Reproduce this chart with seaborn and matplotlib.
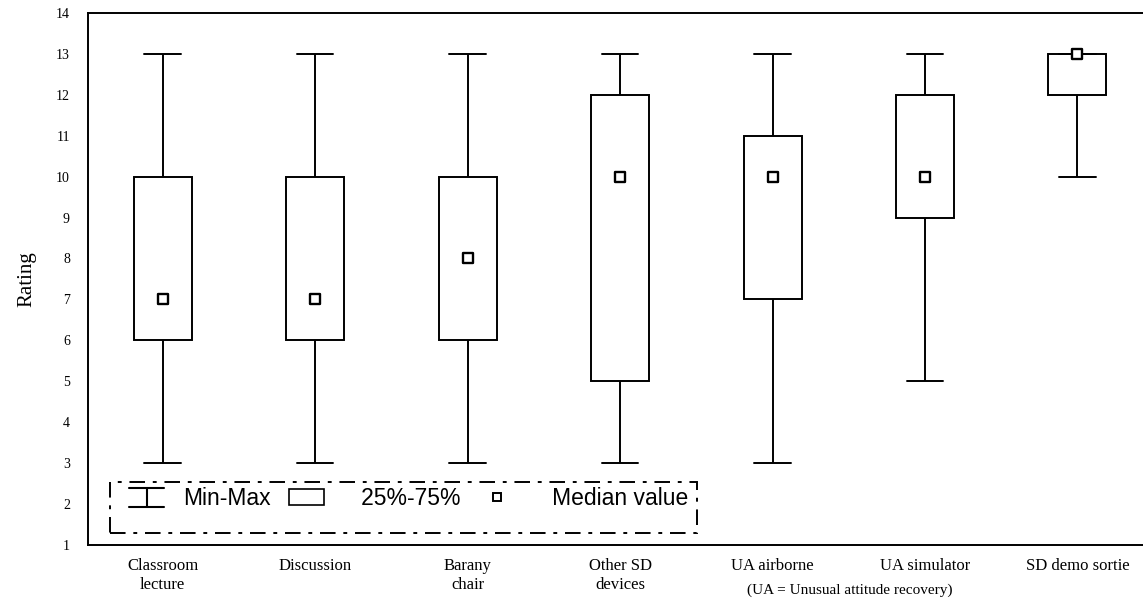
import pandas as pd
import seaborn as sns
import matplotlib.pyplot as plt
import matplotlib.patches as mpatches
from matplotlib.lines import Line2D
from matplotlib.legend_handler import HandlerBase
import matplotlib.transforms as mtransforms

# values
categories = ["Classroom\nlecture", "Discussion", "Barany\nchair", "Other SD\ndevices",
              "UA airborne", "UA simulator", "SD demo sortie"]
mins = [3, 3, 3, 3, 3, 5, 10]
q1s = [6, 6, 6, 5, 7, 9, 12]
medians = [7, 7, 8, 10, 10, 10, 13]
q3s = [10, 10, 10, 12, 11, 12, 13]
maxs = [13, 13, 13, 13, 13, 13, 13]
yticks = list(range(1, 15))
note = "(UA = Unusual attitude recovery)"

# five points per group -> 25/50/75 percentiles land exactly on q1/median/q3
rows = []
for cat, a, b, c, d, e in zip(categories, mins, q1s, medians, q3s, maxs):
    for v in (a, b, c, d, e):
        rows.append({"method": cat, "rating": v})
df = pd.DataFrame(rows)
med_df = pd.DataFrame({"method": categories, "rating": medians})

sns.set_style("white")
plt.rcParams["font.family"] = ["Liberation Serif", "DejaVu Serif"]
plt.rcParams["text.color"] = "black"
plt.rcParams["axes.labelcolor"] = "black"
plt.rcParams["xtick.color"] = "black"
plt.rcParams["ytick.color"] = "black"

fig = plt.figure(figsize=(11.43, 6.11), dpi=100)
ax = fig.add_axes([0.077, 0.108, 0.923, 0.871])

sns.boxplot(data=df, x="method", y="rating", order=categories, ax=ax,
            whis=(0, 100), width=0.38, color="white", linecolor="black",
            linewidth=1.4, showfliers=False, capwidths=0.24,
            medianprops={"visible": False}, saturation=1)

sns.stripplot(data=med_df, x="method", y="rating", order=categories, ax=ax,
              jitter=False, marker="s", size=7.5, color="white",
              edgecolor="black", linewidth=1.7, zorder=5)

ax.set_xlim(-0.49, 6.43)
ax.set_ylim(1, 14)
ax.set_yticks(yticks)
ax.set_xlabel("")
ax.set_ylabel("Rating", fontsize=15, labelpad=14)
ax.tick_params(axis="y", direction="in", length=3, labelsize=10, pad=13)
ax.tick_params(axis="x", length=0, labelsize=12, pad=9)
for lbl in ax.get_xticklabels():
    lbl.set_linespacing(1.3)
for s in ["left", "top", "bottom"]:
    ax.spines[s].set_color("black")
    ax.spines[s].set_linewidth(1.4)
ax.spines["right"].set_visible(False)

ax.text(0.722, -0.085, note, transform=ax.transAxes, ha="center", va="center",
        fontsize=11)


# legend: I-beam for min-max, box for quartiles, square for median
class IBeamHandler(HandlerBase):
    def create_artists(self, legend, orig_handle, xdescent, ydescent,
                       width, height, fontsize, trans):
        x0, x1 = -xdescent, -xdescent + width
        xm = (x0 + x1) / 2
        y0, y1 = -ydescent - height * 0.15, -ydescent + height * 1.05
        lines = [Line2D([x0, x1], [y1, y1]), Line2D([x0, x1], [y0, y0]),
                 Line2D([xm, xm], [y0, y1])]
        for ln in lines:
            ln.set_color("black")
            ln.set_linewidth(1.5)
            ln.set_transform(trans)
        return lines


ibeam = Line2D([], [], color="black")
box_h = mpatches.Patch(facecolor="white", edgecolor="black", linewidth=1.2)
med_h = Line2D([], [], marker="s", linestyle="none", markersize=6,
               markerfacecolor="white", markeredgecolor="black", markeredgewidth=1.4)
leg = ax.legend([ibeam, box_h, med_h], ["Min-Max", "   25%-75%", "   Median value"],
                handler_map={ibeam: IBeamHandler()}, ncol=3, frameon=False,
                loc="center left", bbox_to_anchor=(0.03, 0.088), borderaxespad=0,
                handlelength=1.55, handletextpad=0.8, columnspacing=0.8,
                prop={"family": "Liberation Sans", "size": 16.5})

blend = mtransforms.blended_transform_factory(ax.transAxes, ax.transData)
frame = mpatches.Rectangle((0.021, 1.29), 0.556, 1.25, transform=blend,
                           fill=False, edgecolor="black", linewidth=1.4,
                           linestyle=(0, (8, 4, 2, 4)), zorder=6)
ax.add_patch(frame)

fig.savefig("out.png", dpi=100)
